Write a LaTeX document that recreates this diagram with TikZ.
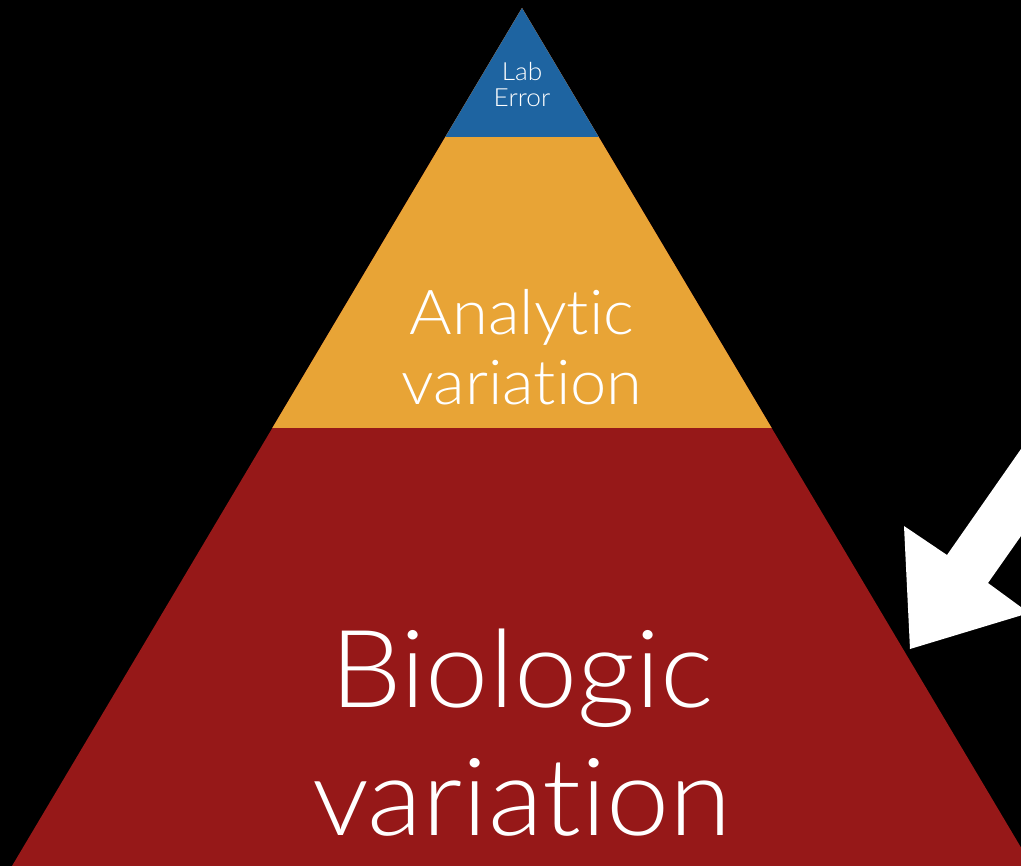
\documentclass[tikz,border=0pt]{standalone}
\usepackage{fontspec}
\setmainfont{Lato}[UprightFont={* Light}, Ligatures={NoCommon}, FakeStretch=1.05]
\definecolor{tierblue}{RGB}{30,100,161}
\definecolor{tierorange}{RGB}{232,164,54}
\definecolor{tierred}{RGB}{150,24,24}
\tikzset{
  label/.style={text=white, anchor=base, inner sep=0pt, align=center},
}
\begin{document}
\begin{tikzpicture}[x=1pt,y=-1pt]
  \fill[black] (0,0) rectangle (1021,866);
  \useasboundingbox (0,0) rectangle (1021,866);
  \clip (0,0) rectangle (1021,866);
  % pyramid tiers, stacked from the base up
  \fill[tierred] (522,8) -- (12,866) -- (1032,866) -- cycle;
  \fill[tierorange] (522,8) -- (272.3,428) -- (771.7,428) -- cycle;
  \fill[tierblue] (522,8) -- (445.3,137) -- (598.7,137) -- cycle;
  % tier labels
  \node[label, font=\fontsize{25}{26}\selectfont] (lab1) at (522,81) {Lab};
  \node[label, font=\fontsize{25}{26}\selectfont] (lab2) at (522,107) {Error};
  \node[label, font=\fontsize{62}{70}\selectfont] (ana1) at (522,335) {Analytic};
  \node[label, font=\fontsize{62}{70}\selectfont] (ana2) at (522,405) {variation};
  \node[label, font=\fontsize{108}{128}\selectfont] (bio1) at (522,707) {Biologic};
  \node[label, font=\fontsize{108}{128}\selectfont] (bio2) at (522,835) {variation};
  % block arrow pointing at the base tier
  \fill[white] (1060,395) -- (1021,449) -- (947,555) -- (904,526) -- (910,649)
     -- (1029,613) -- (988,583) -- (1021,536) -- (1080,452) -- cycle;
\end{tikzpicture}
\end{document}
